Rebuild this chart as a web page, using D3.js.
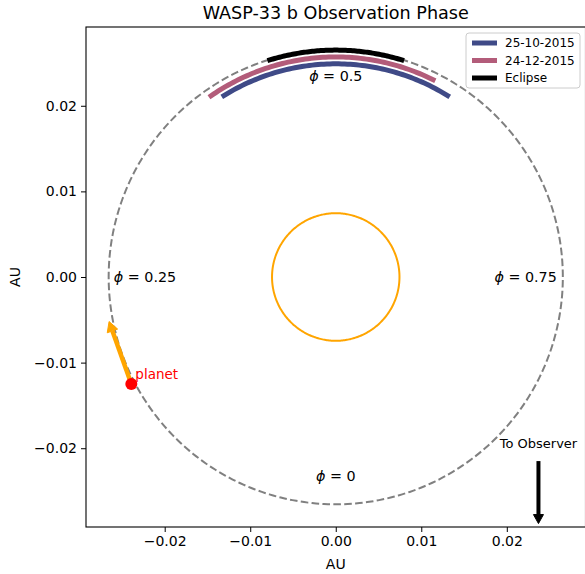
<!DOCTYPE html>
<html><head><meta charset="utf-8">
<script src="https://cdn.jsdelivr.net/npm/d3@7"></script>
<style>body{margin:0;background:#fff}svg{display:block;font-family:"DejaVu Sans",sans-serif}</style>
</head><body>
<svg id="c" width="585" height="574"></svg>
<script>
// ---- data ----
const orbitRadius = 0.02655;      // AU
const starRadius = 0.00745;       // AU
const axisLimit = 0.0292;
const tickValues = [-0.02, -0.01, 0.00, 0.01, 0.02];
const seriesNames = ["25-10-2015", "24-12-2015", "Eclipse"];
const seriesStartPhase = [0.412, 0.404, 0.453];
const seriesEndPhase = [0.588, 0.573, 0.547];
const seriesRadius = [0.0249, 0.0257, 0.0265];
const seriesColors = ["#3f4a87", "#b35c7a", "#000000"];
const phaseLabels = ["ϕ", "ϕ", "ϕ", "ϕ"];
const phaseValues = ["0", "0.25", "0.5", "0.75"];
const phaseLabelX = [0.0, -0.0223, 0.0, 0.0222];
const phaseLabelY = [-0.0232, 0.0, 0.0235, 0.0];
const planetPos = [-0.0239, -0.0125];
const planetArrowEnd = [-0.0265, -0.0052];
const observerArrowX = 0.0237;
const observerArrowY = [-0.0215, -0.0288];
const observerLabelY = -0.0200;

const svg = d3.select("#c");
const L = 86, R = 585.5, T = 27, B = 527;
const x = d3.scaleLinear().domain([-axisLimit, axisLimit]).range([L, R]);
const y = d3.scaleLinear().domain([-axisLimit, axisLimit]).range([B, T]);
const fmt = d => (d < 0 ? "\u2212" : "") + Math.abs(d).toFixed(2);

const defs = svg.append("defs");
defs.append("clipPath").attr("id", "clip").append("rect")
  .attr("x", L).attr("y", T).attr("width", R - L).attr("height", B - T);

const g = svg.append("g").attr("clip-path", "url(#clip)");

// orbit
const circPts = d3.range(0, 361, 1).map(d => [orbitRadius * Math.cos(d * Math.PI / 180), orbitRadius * Math.sin(d * Math.PI / 180)]);
const line = d3.line().x(d => x(d[0])).y(d => y(d[1]));
g.append("path").attr("d", line(circPts)).attr("fill", "none")
  .attr("stroke", "#808080").attr("stroke-width", 2).attr("stroke-dasharray", "7.6,3.3");

// star
const starPts = d3.range(0, 361, 1).map(d => [starRadius * Math.cos(d * Math.PI / 180), starRadius * Math.sin(d * Math.PI / 180)]);
g.append("path").attr("d", line(starPts)).attr("fill", "none")
  .attr("stroke", "#ffa500").attr("stroke-width", 2);

// phase arcs
const phasePoint = (p, r) => [-r * Math.sin(2 * Math.PI * p), -r * Math.cos(2 * Math.PI * p)];
seriesNames.forEach((name, i) => {
  const n = 80;
  const pts = d3.range(n + 1).map(k => phasePoint(seriesStartPhase[i] + (seriesEndPhase[i] - seriesStartPhase[i]) * k / n, seriesRadius[i]));
  g.append("path").attr("d", line(pts)).attr("fill", "none")
    .attr("stroke", seriesColors[i]).attr("stroke-width", 5).attr("stroke-linecap", "square");
});

// phase labels
phaseLabels.forEach((lab, i) => {
  const t = g.append("text").attr("x", x(phaseLabelX[i])).attr("y", y(phaseLabelY[i]))
    .attr("text-anchor", "middle").attr("dominant-baseline", "central").attr("font-size", 14.3);
  t.append("tspan").attr("font-style", "italic").text(lab);
  t.append("tspan").text(" = " + phaseValues[i]);
});

// arrow helper
function arrow(p0, p1, color, lw, hw, hl) {
  const x0 = x(p0[0]), y0 = y(p0[1]), x1 = x(p1[0]), y1 = y(p1[1]);
  const dx = x1 - x0, dy = y1 - y0, len = Math.hypot(dx, dy);
  const ux = dx / len, uy = dy / len;
  const bx = x1 - ux * hl, by = y1 - uy * hl;
  g.append("line").attr("x1", x0).attr("y1", y0).attr("x2", bx).attr("y2", by)
    .attr("stroke", color).attr("stroke-width", lw);
  g.append("path").attr("d", `M${x1},${y1}L${bx - uy * hw / 2},${by + ux * hw / 2}L${bx + uy * hw / 2},${by - ux * hw / 2}Z`)
    .attr("fill", color).attr("stroke", color).attr("stroke-width", 1).attr("stroke-linejoin", "round");
}

// planet motion arrow
arrow(planetPos, planetArrowEnd, "#ffa500", 4.5, 11, 10);
g.append("circle").attr("cx", x(planetPos[0])).attr("cy", y(planetPos[1])).attr("r", 6).attr("fill", "#ff0000");
g.append("text").attr("x", x(planetPos[0]) + 4).attr("y", y(planetPos[1]) - 5)
  .attr("fill", "#ff0000").attr("font-size", 13.5).text("planet");

// observer arrow
arrow([observerArrowX, observerArrowY[0]], [observerArrowX, observerArrowY[1]], "#000", 4, 10, 9);
g.append("text").attr("x", x(observerArrowX)).attr("y", y(observerLabelY))
  .attr("text-anchor", "middle").attr("font-size", 13).text("To Observer");

// axes
const xAxis = svg.append("g").attr("transform", `translate(0,${B})`)
  .call(d3.axisBottom(x).tickValues(tickValues).tickFormat(fmt).tickSize(5).tickPadding(4));
const yAxis = svg.append("g").attr("transform", `translate(${L},0)`)
  .call(d3.axisLeft(y).tickValues(tickValues).tickFormat(fmt).tickSize(5).tickPadding(4));
[xAxis, yAxis].forEach(a => {
  a.select(".domain").remove();
  a.selectAll("text").attr("font-size", 14).attr("fill", "#000").attr("font-family", "DejaVu Sans");
  a.selectAll("line").attr("stroke", "#000").attr("stroke-width", 1);
});
svg.append("rect").attr("x", L).attr("y", T).attr("width", R - L).attr("height", B - T)
  .attr("fill", "none").attr("stroke", "#000").attr("stroke-width", 1.1);

// labels
svg.append("text").attr("x", (L + R) / 2).attr("y", 569).attr("text-anchor", "middle").attr("font-size", 14).text("AU");
svg.append("text").attr("transform", `translate(20,${(T + B) / 2}) rotate(-90)`).attr("text-anchor", "middle").attr("font-size", 14).text("AU");
svg.append("text").attr("x", (L + R) / 2).attr("y", 19).attr("text-anchor", "middle").attr("font-size", 17.6).text("WASP-33 b Observation Phase");

// legend
const lg = svg.append("g");
lg.append("rect").attr("x", 466).attr("y", 33).attr("width", 114).attr("height", 55).attr("rx", 3)
  .attr("fill", "#fff").attr("fill-opacity", 0.8).attr("stroke", "#cccccc");
seriesNames.forEach((name, i) => {
  const yy = 43 + i * 17.5;
  lg.append("line").attr("x1", 472).attr("x2", 497).attr("y1", yy).attr("y2", yy)
    .attr("stroke", seriesColors[i]).attr("stroke-width", 5);
  lg.append("text").attr("x", 505).attr("y", yy).attr("dominant-baseline", "central")
    .attr("font-size", 12).text(name);
});
</script>
</body></html>
